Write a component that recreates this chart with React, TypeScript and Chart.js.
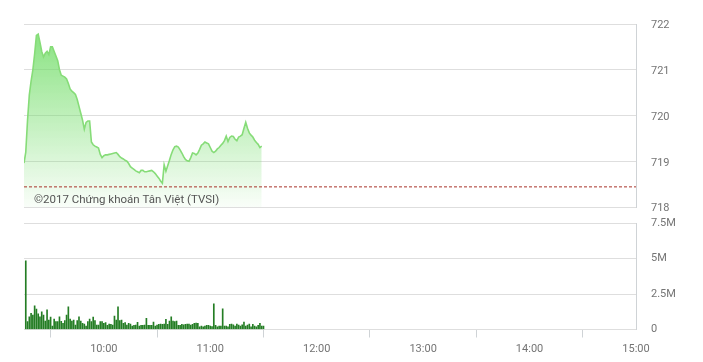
import React, { useEffect, useRef } from "react";
import { Chart, registerables } from "chart.js";

Chart.register(...registerables);

// ---- data ----
const SESSION_START = "09:15";
const SESSION_END = "15:00";
const X_TICK_LABELS = ["10:00", "11:00", "12:00", "13:00", "14:00", "15:00"];
const PRICE_TICKS = [718, 719, 720, 721, 722];
const VOLUME_TICKS = [0, 2500000, 5000000, 7500000];
const REFERENCE_PRICE = 718.44;
const WATERMARK = "©2017 Chứng khoán Tân Việt (TVSI)";

// one value per minute from PRICE_START
const PRICE_START = "09:15";
const PRICE = [
  718.96, 719.2, 719.9, 720.45, 720.75, 721.0, 721.35, 721.75, 721.78, 721.6,
  721.4, 721.28, 721.36, 721.4, 721.33, 721.5, 721.5, 721.4, 721.3, 721.2,
  721.0, 720.88, 720.86, 720.84, 720.8, 720.7, 720.58, 720.53, 720.5, 720.46,
  720.35, 720.2, 720.05, 719.9, 719.7, 719.85, 719.88, 719.88, 719.42, 719.36,
  719.33, 719.31, 719.29, 719.15, 719.08, 719.12, 719.14, 719.14, 719.15, 719.16,
  719.17, 719.18, 719.19, 719.15, 719.1, 719.07, 719.05, 719.02, 719.0, 718.95,
  718.88, 718.85, 718.82, 718.79, 718.77, 718.75, 718.8, 718.8, 718.77, 718.77,
  718.78, 718.79, 718.8, 718.77, 718.73, 718.68, 718.63, 718.57, 718.52, 718.92,
  718.78, 718.9, 719.02, 719.15, 719.25, 719.32, 719.33, 719.31, 719.25, 719.18,
  719.1, 719.04, 719.01, 719.0, 719.08, 719.18, 719.17, 719.14, 719.18, 719.26,
  719.35, 719.38, 719.42, 719.4, 719.38, 719.3, 719.22, 719.19, 719.22, 719.27,
  719.3, 719.35, 719.39, 719.45, 719.55, 719.43, 719.52, 719.55, 719.54, 719.48,
  719.45, 719.53, 719.55, 719.58, 719.72, 719.85, 719.72, 719.62, 719.57, 719.53,
  719.46, 719.41, 719.37, 719.3, 719.33,
];

// one bar per minute from VOLUME_START, in millions of shares
const VOLUME_START = "09:16";
const VOLUME_M = [
  4.83, 0.55, 0.9, 1.14, 1.02, 1.67, 1.43, 1.1, 0.9, 1.24,
  1.02, 0.6, 1.38, 0.67, 0.88, 0.24, 0.74, 0.55, 0.55, 0.9,
  0.57, 0.43, 0.62, 1.02, 1.6, 0.74, 0.6, 0.67, 0.31, 0.62,
  0.9, 0.6, 0.43, 0.38, 0.24, 0.55, 0.74, 0.55, 0.88, 0.62,
  0.31, 0.31, 0.55, 0.55, 0.43, 0.48, 0.29, 0.38, 0.36, 0.31,
  0.95, 0.67, 1.6, 0.62, 0.67, 0.43, 0.48, 0.31, 0.43, 0.38,
  0.24, 0.29, 0.31, 0.5, 0.24, 0.29, 0.29, 0.31, 0.79, 0.29,
  0.29, 0.29, 0.52, 0.24, 0.31, 0.36, 0.38, 0.36, 0.38, 0.71,
  0.36, 0.6, 0.9, 0.6, 0.55, 0.6, 0.29, 0.29, 0.36, 0.33,
  0.36, 0.38, 0.38, 0.31, 0.36, 0.43, 0.45, 0.43, 0.19, 0.24,
  0.19, 0.24, 0.29, 0.29, 0.24, 0.21, 1.81, 0.29, 0.19, 0.24,
  0.24, 1.45, 0.24, 0.24, 0.19, 0.36, 0.38, 0.33, 0.24, 0.38,
  0.31, 0.24, 0.33, 0.52, 0.24, 0.31, 0.38, 0.19, 0.36, 0.24,
  0.19, 0.29, 0.43, 0.24, 0.24,
];

// ---- helpers ----
const toMin = (s: string) => {
  const [h, m] = s.split(":").map(Number);
  return h * 60 + m;
};
const fmtTime = (v: number) => {
  const h = Math.floor(v / 60);
  const m = Math.round(v - h * 60);
  return `${String(h).padStart(2, "0")}:${String(m).padStart(2, "0")}`;
};
const FAMILY = "Roboto, 'Liberation Sans', sans-serif";
const LABEL_COLOR = "#747474";
const GRID_COLOR = "#dedede";
const BORDER_COLOR = "#cfd3d6";
const W = 703;
const TOP_H = 215;
const BOT_H = 147;
const AXIS_W = 67;

const fitRightAxis = (s: any) => {
  s.width = AXIS_W;
  s.paddingTop = 0;
  s.paddingBottom = 0;
};

export default function App() {
  const topRef = useRef<HTMLCanvasElement>(null);
  const botRef = useRef<HTMLCanvasElement>(null);

  useEffect(() => {
    const xMin = toMin(SESSION_START);
    const xMax = toMin(SESSION_END);
    const p0 = toMin(PRICE_START);
    const v0 = toMin(VOLUME_START);

    const watermark = {
      id: "watermark",
      afterDatasetsDraw(chart: any) {
        const ctx = chart.ctx;
        ctx.save();
        ctx.font = `11.5px ${FAMILY}`;
        ctx.fillStyle = "#555";
        ctx.textBaseline = "alphabetic";
        ctx.textAlign = "left";
        ctx.fillText(WATERMARK, chart.chartArea.left + 10, 203);
        ctx.restore();
      },
    };

    const top = new Chart(topRef.current!, {
      type: "line",
      data: {
        datasets: [
          {
            data: [
              { x: xMin, y: REFERENCE_PRICE },
              { x: xMax, y: REFERENCE_PRICE },
            ],
            borderColor: "#a8322a",
            borderWidth: 1,
            borderDash: [3, 2],
            pointRadius: 0,
            fill: false,
            order: 0,
          },
          {
            data: PRICE.map((v, i) => ({ x: p0 + i, y: v })),
            borderColor: "#86dc78",
            borderWidth: 1.6,
            pointRadius: 0,
            tension: 0,
            fill: "start",
            order: 1,
            backgroundColor: (c: any) => {
              const area = c.chart.chartArea;
              if (!area) return "rgba(110,220,100,0.4)";
              const g = c.chart.ctx.createLinearGradient(0, area.top, 0, area.bottom);
              g.addColorStop(0, "rgba(110,220,100,0.85)");
              g.addColorStop(1, "rgba(110,220,100,0.04)");
              return g;
            },
          },
        ],
      },
      options: {
        animation: false,
        responsive: false,
        layout: { padding: { left: 24, top: 24, right: 0, bottom: 8 } },
        plugins: { legend: { display: false }, tooltip: { enabled: false } },
        scales: {
          x: { type: "linear", min: xMin, max: xMax, display: false },
          y: {
            position: "right",
            min: PRICE_TICKS[0],
            max: PRICE_TICKS[PRICE_TICKS.length - 1],
            afterBuildTicks: (s: any) => {
              s.ticks = PRICE_TICKS.map((v) => ({ value: v }));
            },
            afterFit: fitRightAxis,
            grid: { color: GRID_COLOR, drawTicks: false },
            border: { display: true, color: BORDER_COLOR },
            ticks: { padding: 15, labelOffset: 1.5, color: LABEL_COLOR, font: { family: FAMILY, size: 11 } },
          },
        },
      } as any,
      plugins: [watermark],
    });

    const bot = new Chart(botRef.current!, {
      type: "bar",
      data: {
        datasets: [
          {
            data: VOLUME_M.map((v, i) => ({ x: v0 + i, y: v * 1e6 })),
            backgroundColor: "#247d24",
            barThickness: 1,
          },
        ],
      },
      options: {
        animation: false,
        responsive: false,
        layout: { padding: { left: 24, top: 8, right: 0, bottom: 6 } },
        plugins: { legend: { display: false }, tooltip: { enabled: false } },
        scales: {
          x: {
            type: "linear",
            min: xMin,
            max: xMax,
            offset: false,
            afterBuildTicks: (s: any) => {
              s.ticks = X_TICK_LABELS.map((t) => ({ value: toMin(t) }));
            },
            afterFit: (s: any) => {
              s.height = 26.5;
            },
            grid: { drawOnChartArea: false, drawTicks: true, tickLength: 8, color: BORDER_COLOR },
            border: { display: false },
            ticks: {
              padding: 5,
              color: LABEL_COLOR,
              font: { family: FAMILY, size: 11 },
              maxRotation: 0,
              autoSkip: false,
              callback: (v: any) => fmtTime(Number(v)),
            },
          },
          y: {
            position: "right",
            min: VOLUME_TICKS[0],
            max: VOLUME_TICKS[VOLUME_TICKS.length - 1],
            afterBuildTicks: (s: any) => {
              s.ticks = VOLUME_TICKS.map((v) => ({ value: v }));
            },
            afterFit: fitRightAxis,
            grid: { color: GRID_COLOR, drawTicks: false },
            border: { display: true, color: BORDER_COLOR },
            ticks: {
              padding: 15,
              color: LABEL_COLOR,
              font: { family: FAMILY, size: 11 },
              callback: (v: any) => (Number(v) === 0 ? "0" : `${Number(v) / 1e6}M`),
            },
          },
        },
      } as any,
    });

    return () => {
      top.destroy();
      bot.destroy();
    };
  }, []);

  return (
    <div style={{ position: "absolute", left: 0, top: 0, width: W, height: TOP_H + BOT_H, background: "#fff" }}>
      <canvas ref={topRef} width={W} height={TOP_H} style={{ position: "absolute", left: 0, top: 0, width: W, height: TOP_H }} />
      <canvas ref={botRef} width={W} height={BOT_H} style={{ position: "absolute", left: 0, top: TOP_H, width: W, height: BOT_H }} />
    </div>
  );
}
